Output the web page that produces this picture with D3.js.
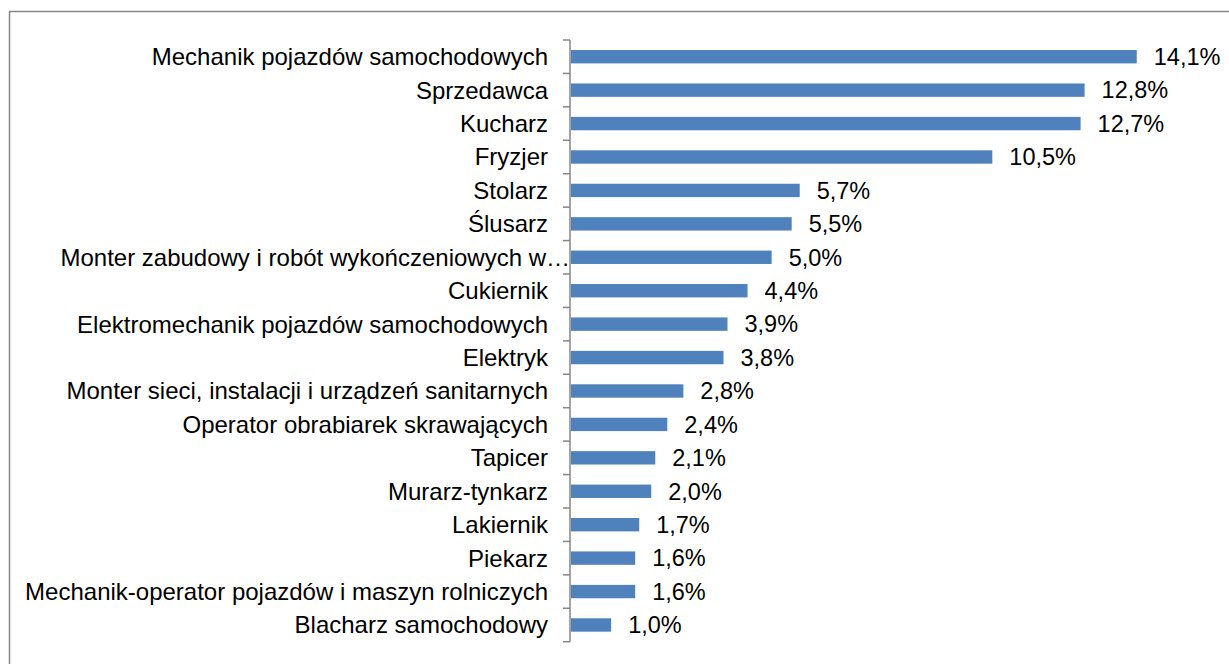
<!DOCTYPE html>
<html>
<head>
<meta charset="utf-8">
<script src="https://cdn.jsdelivr.net/npm/d3@7"></script>
<style>
  body { margin: 0; background: #fff; }
  text { font-family: "Liberation Sans", Arial, sans-serif; fill: #000; }
</style>
</head>
<body>
<div id="chart"></div>
<script>
  var width = 1229, height = 664;

  var categories = [
    "Mechanik pojazdów samochodowych",
    "Sprzedawca",
    "Kucharz",
    "Fryzjer",
    "Stolarz",
    "Ślusarz",
    "Monter zabudowy i robót wykończeniowych w…",
    "Cukiernik",
    "Elektromechanik pojazdów samochodowych",
    "Elektryk",
    "Monter sieci, instalacji i urządzeń sanitarnych",
    "Operator obrabiarek skrawających",
    "Tapicer",
    "Murarz-tynkarz",
    "Lakiernik",
    "Piekarz",
    "Mechanik-operator pojazdów i maszyn rolniczych",
    "Blacharz samochodowy"
  ];
  var values = [14.1, 12.8, 12.7, 10.5, 5.7, 5.5, 5.0, 4.4, 3.9, 3.8, 2.8, 2.4, 2.1, 2.0, 1.7, 1.6, 1.6, 1.0];
  var valueLabels = ["14,1%", "12,8%", "12,7%", "10,5%", "5,7%", "5,5%", "5,0%", "4,4%", "3,9%", "3,8%",
    "2,8%", "2,4%", "2,1%", "2,0%", "1,7%", "1,6%", "1,6%", "1,0%"];

  var svg = d3.select("#chart").append("svg")
    .attr("width", width)
    .attr("height", height);

  // chart area border (runs off the right and bottom)
  svg.append("rect")
    .attr("x", 9.5).attr("y", 11.5)
    .attr("width", 1240).attr("height", 700)
    .style("fill", "none")
    .style("stroke", "#868686")
    .style("stroke-width", 1.5);

  var x = d3.scaleLinear()
    .domain([0, 16])
    .range([571, 1213]);

  var y = d3.scaleBand()
    .domain(categories)
    .range([40, 641.7])
    .paddingInner(0.6)
    .paddingOuter(0.3);

  var step = y.step();

  svg.selectAll("rect.bar").data(categories).enter().append("rect")
    .attr("class", "bar")
    .attr("x", x(0))
    .attr("y", function(d) { return y(d); })
    .attr("width", function(d, i) { return x(values[i]) - x(0); })
    .attr("height", y.bandwidth())
    .style("fill", "#4f81bd");

  // axis line + tick marks on category boundaries
  var ax = svg.append("g").style("stroke", "#868686").style("stroke-width", 1.5);
  ax.append("line")
    .attr("x1", 570).attr("x2", 570)
    .attr("y1", y.range()[0]).attr("y2", y.range()[1]);
  var bounds = d3.range(categories.length + 1).map(function(i) { return y.range()[0] + i * step; });
  ax.selectAll("line.tick").data(bounds).enter().append("line")
    .attr("class", "tick")
    .attr("x1", 563).attr("x2", 570)
    .attr("y1", function(d) { return d; })
    .attr("y2", function(d) { return d; });

  // truncated label runs up to the axis line
  svg.selectAll("text.cat").data(categories).enter().append("text")
    .attr("class", "cat")
    .attr("x", function(d) { return d.indexOf("…") >= 0 ? 570 : 548; })
    .attr("y", function(d) { return y(d) + y.bandwidth() / 2; })
    .attr("dy", "0.35em")
    .attr("text-anchor", "end")
    .style("font-size", "24px")
    .text(function(d) { return d; });

  svg.selectAll("text.val").data(categories).enter().append("text")
    .attr("class", "val")
    .attr("x", function(d, i) { return x(values[i]) + 17; })
    .attr("y", function(d) { return y(d) + y.bandwidth() / 2; })
    .attr("dy", "0.35em")
    .style("font-size", "23.5px")
    .text(function(d, i) { return valueLabels[i]; });
</script>
</body>
</html>
